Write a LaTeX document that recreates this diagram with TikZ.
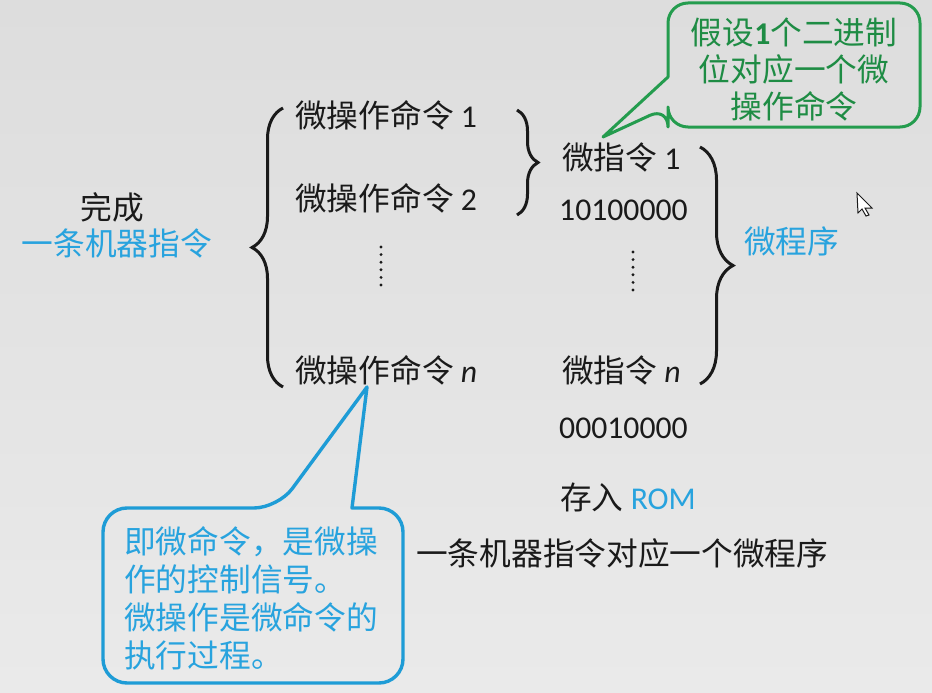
\documentclass[tikz,border=0pt]{standalone}
\usepackage{fontspec}
\setmainfont{Carlito}
\newfontfamily\cjk{Noto Sans CJK SC}
\usetikzlibrary{decorations.pathreplacing}

\definecolor{ink}{RGB}{26,26,26}
\definecolor{skyblue}{RGB}{40,163,222}
\definecolor{boxblue}{RGB}{30,156,214}
\definecolor{leaf}{RGB}{36,156,78}
\definecolor{leaftext}{RGB}{30,140,68}
\definecolor{bgtop}{RGB}{221,221,221}
\definecolor{bgbot}{RGB}{234,234,234}

\tikzset{
  txt/.style={inner sep=0pt, anchor=base west, text=ink, font=\fontsize{31.7}{38}\selectfont},
  ctxt/.style={txt, anchor=base},
  bluetxt/.style={txt, text=skyblue},
  curly/.style={draw=ink, line width=3pt, decorate},
  dotcol/.style={draw=ink, line width=3.2pt, line cap=round, dash pattern=on 0pt off 7.6pt},
  greencallout/.style={draw=leaf, line width=3pt, line join=round},
  bluecallout/.style={draw=boxblue, line width=3.4pt, line join=round},
}

\begin{document}
\begin{tikzpicture}[x=1pt, y=-1pt]
  % page background
  \shade[top color=bgtop, bottom color=bgbot] (0,0) rectangle (932,693);
  \useasboundingbox (0,0) rectangle (932,693);

  % left column: the machine instruction
  \node[ctxt] (done) at (112,219) {\cjk 完成};
  \node[ctxt, text=skyblue] (instr) at (117,255) {\cjk 一条机器指令};

  % micro-operation commands
  \node[txt] (op1) at (295,127) {{\cjk 微操作命令} 1};
  \node[txt] (op2) at (295,210) {{\cjk 微操作命令} 2};
  \node[txt] (opn) at (295,382) {{\cjk 微操作命令} \textit{n}};
  \coordinate (opdotA) at (381,247);
  \coordinate (opdotB) at (381,285);
  \draw[dotcol] (opdotA) -- (opdotB);

  % micro-instructions
  \node[txt] (mi1) at (562,169) {{\cjk 微指令} 1};
  \node[txt] (code1) at (559,220) {10100000};
  \node[txt] (min) at (562,382) {{\cjk 微指令} \textit{n}};
  \node[txt] (coden) at (559,438) {00010000};
  \coordinate (midotA) at (633,252);
  \coordinate (midotB) at (633,290);
  \draw[dotcol] (midotA) -- (midotB);

  \node[txt] (rom) at (560,509) {{\cjk 存入} \textcolor{skyblue}{ROM}};
  \node[txt] (summary) at (416,565) {\cjk 一条机器指令对应一个微程序};
  \node[bluetxt] (prog) at (744,253) {\cjk 微程序};

  % braces
  \coordinate (bigL1) at (283,387);
  \coordinate (bigL2) at (283,108);
  \draw[curly, decoration={brace, amplitude=31pt}] (bigL1) -- (bigL2);
  \coordinate (smR1) at (517,110);
  \coordinate (smR2) at (517,215);
  \draw[curly, decoration={brace, amplitude=21pt}] (smR1) -- (smR2);
  \coordinate (bigR1) at (700,147);
  \coordinate (bigR2) at (700,384);
  \draw[curly, decoration={brace, amplitude=33pt}] (bigR1) -- (bigR2);

  % green callout pointing at micro-instruction 1
  \coordinate (gtip) at (603,137);
  \draw[greencallout] (668,77) [rounded corners=20pt] -- (668,3) -- (920,3) -- (920,127)
      -- (668,127) -- (668,107) [sharp corners] -- (gtip) -- cycle;
  \node[align=center, inner sep=0pt, text=leaftext, font=\fontsize{31.7}{37}\selectfont, anchor=north]
      (gnote) at (794,18) {{\cjk 假设}\textbf{1}{\cjk 个二进制}\\{\cjk 位对应一个微}\\{\cjk 操作命令}};

  % blue callout pointing at micro-operation command n
  \coordinate (btip) at (367,387);
  \draw[bluecallout] (352,508) [rounded corners=24pt] -- (403,508) -- (403,683) -- (103,683)
      -- (103,508) -- (278,508) [sharp corners] -- (btip) -- cycle;
  \node[align=left, inner sep=0pt, text=skyblue, font=\fontsize{31.7}{38}\selectfont, anchor=north west]
      (bnote) at (124,526) {\cjk 即微命令，是微操\\\cjk 作的控制信号。\\\cjk 微操作是微命令的\\\cjk 执行过程。};

  % mouse pointer
  \draw[fill=white, draw=ink, line width=1pt, line join=miter]
      (857,193) -- (858,213) -- (862,209) -- (866,216) -- (869,215) -- (865,208) -- (872,208) -- cycle;
\end{tikzpicture}
\end{document}
